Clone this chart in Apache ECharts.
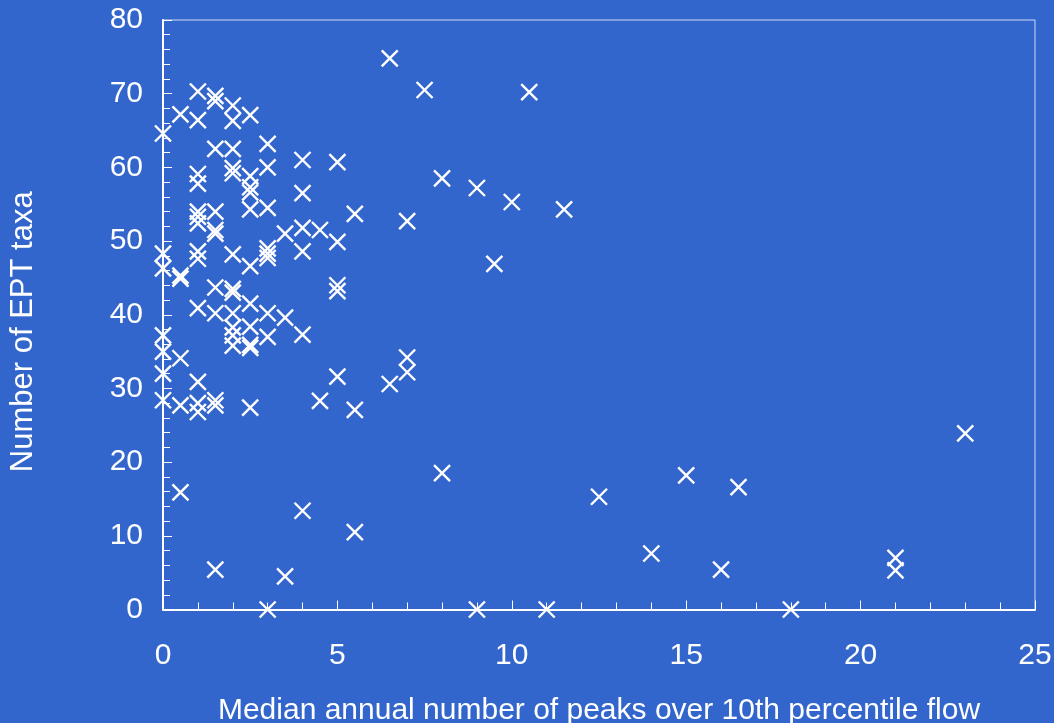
<!DOCTYPE html>
<html>
<head>
<meta charset="utf-8">
<script src="https://cdn.jsdelivr.net/npm/echarts@6/dist/echarts.min.js"></script>
<style>
html,body{margin:0;padding:0;background:#3366CC;}
#chart{width:1054px;height:723px;}
</style>
</head>
<body>
<div id="chart"></div>
<script>
// Median annual number of peaks over 10th percentile flow
const peaks = [
  0,0,0,0,0,0,0,
  0.5,0.5,0.5,0.5,0.5,0.5,
  1,1,1,1,1,1,1,1,1,1,1,1,1,
  1.5,1.5,1.5,1.5,1.5,1.5,1.5,1.5,1.5,1.5,1.5,
  2,2,2,2,2,2,2,2,2,2,2,2,
  2.5,2.5,2.5,2.5,2.5,2.5,2.5,2.5,2.5,2.5,2.5,
  3,3,3,3,3,3,3,3,3,
  3.5,3.5,3.5,
  4,4,4,4,4,4,
  4.5,4.5,
  5,5,5,5,5,
  5.5,5.5,5.5,
  6.5,6.5,
  7,7,7,
  7.5,
  8,8,
  9,9,
  9.5,
  10,
  10.5,
  11,
  11.5,
  12.5,
  14,
  15,
  16,
  16.5,
  18,
  21,21,
  23
];
// Number of EPT taxa
const taxa = [
  64.6,48.3,46.3,37.2,35.0,32.0,28.4,
  67.2,45.3,44.9,34.1,27.7,15.9,
  70.3,66.4,59.1,57.8,54.0,53.3,52.4,48.6,47.6,40.9,30.9,28.0,26.8,
  69.7,69.0,62.5,54.0,51.5,51.0,43.7,40.2,28.4,27.7,5.4,
  68.4,66.3,62.5,59.9,59.2,48.2,43.5,43.0,40.2,38.3,37.2,35.8,
  67.1,58.8,57.3,56.6,54.3,46.6,41.5,38.4,35.9,35.5,27.4,
  63.2,60.0,54.5,49.0,48.3,47.7,40.2,37.0,0,
  51.0,39.6,4.5,
  61.0,56.5,51.8,48.6,37.3,13.4,
  51.5,28.3,
  60.7,49.9,44.0,43.2,31.6,
  53.7,27.1,10.5,
  74.8,30.6,
  52.7,34.2,32.2,
  70.5,
  58.5,18.5,
  57.2,0,
  46.9,
  55.3,
  70.2,
  0,
  54.3,
  15.3,
  7.6,
  18.2,
  5.4,
  16.6,
  0,
  7.0,5.3,
  23.9
];
const xTitle = 'Median annual number of peaks over 10th percentile flow';
const yTitle = 'Number of EPT taxa';

const points = peaks.map((p, i) => [p, taxa[i]]);

const chart = echarts.init(document.getElementById('chart'), null, {renderer: 'canvas'});
const font = 'Liberation Sans, Arial, sans-serif';
chart.setOption({
  backgroundColor: '#3366CC',
  animation: false,
  grid: {
    left: 163, right: 19, top: 20, bottom: 113.5,
    containLabel: false, outerBoundsMode: 'none',
    show: true, borderColor: 'rgba(255,255,255,0.75)', borderWidth: 1,
    backgroundColor: 'transparent'
  },
  xAxis: {
    type: 'value', min: 0, max: 25, interval: 5,
    name: xTitle, nameLocation: 'middle', nameGap: 86,
    nameTextStyle: {color: '#fff', fontSize: 30, fontFamily: font},
    axisLine: {show: true, onZero: false, lineStyle: {color: '#fff', width: 2}},
    axisTick: {show: true, inside: true, length: 9, lineStyle: {color: '#fff', width: 1}},
    minorTick: {show: true, splitNumber: 5, length: 7, lineStyle: {color: '#fff', width: 1}},
    splitLine: {show: false},
    axisLabel: {color: '#fff', fontSize: 30, fontFamily: font, margin: 31}
  },
  yAxis: {
    type: 'value', min: 0, max: 80, interval: 10,
    name: yTitle, nameLocation: 'middle', nameGap: 124, nameRotate: 90,
    nameTextStyle: {color: '#fff', fontSize: 31, fontFamily: font, padding: [0, 34, 0, 0]},
    axisLine: {show: true, onZero: false, lineStyle: {color: '#fff', width: 2}},
    axisTick: {show: true, inside: true, length: 9, lineStyle: {color: '#fff', width: 1}},
    minorTick: {show: true, splitNumber: 5, length: 7, lineStyle: {color: '#fff', width: 1}},
    splitLine: {show: false},
    axisLabel: {color: '#fff', fontSize: 30, fontFamily: font, margin: 20}
  },
  series: [{
    type: 'scatter',
    data: points,
    symbol: 'path://M0,0L10,10M10,0L0,10',
    symbolSize: 16,
    itemStyle: {color: 'transparent', borderColor: '#ffffff', borderWidth: 2.4, opacity: 1},
    emphasis: {disabled: true}
  }]
});
</script>
</body>
</html>
